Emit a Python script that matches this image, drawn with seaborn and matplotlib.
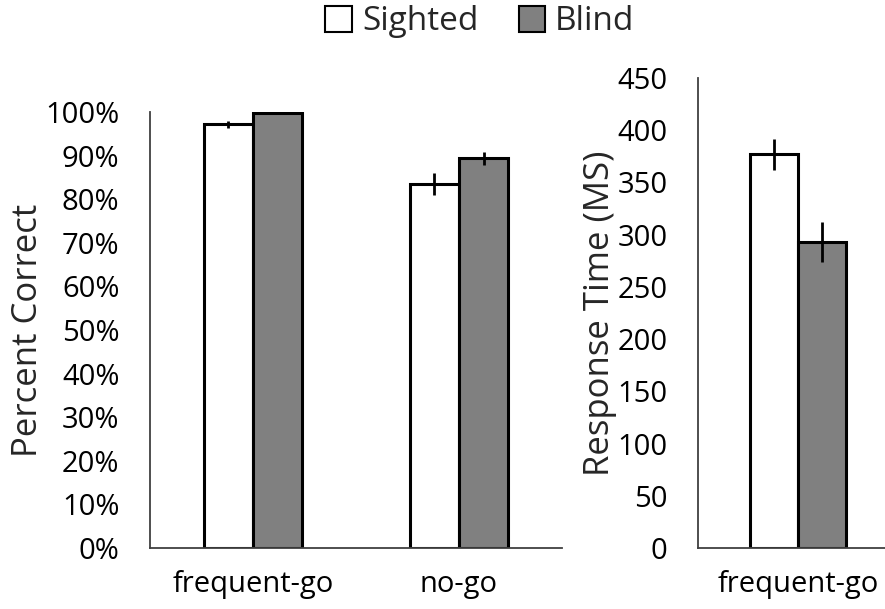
import matplotlib
matplotlib.use("Agg")
import matplotlib.pyplot as plt
import matplotlib.patches as mpatches
import seaborn as sns
import pandas as pd
import numpy as np

# Data
groups = ["Sighted", "Blind"]
acc_conditions = ["frequent-go", "no-go"]
acc_sighted = [97.2, 83.5]
acc_blind = [99.7, 89.4]
acc_err_sighted = [0.8, 2.5]
acc_err_blind = [0.0, 1.5]

rt_conditions = ["frequent-go"]
rt_sighted = [377]
rt_blind = [293]
rt_err_sighted = [15]
rt_err_blind = [19]

colors = {"Sighted": "#ffffff", "Blind": "#808080"}

sns.set_theme(style="white")
plt.rcParams['font.family'] = ['Open Sans', 'DejaVu Sans']

fig = plt.figure(figsize=(8.85, 6.09), dpi=100)
ax1 = fig.add_axes([150/885, 61/609, 412/885, 436/609])
ax2 = fig.add_axes([698/885, 61/609, 200/885, 470/609])

def draw(ax, conds, s_vals, b_vals, s_err, b_err):
    df = pd.DataFrame({
        "condition": conds * 2,
        "group": ["Sighted"] * len(conds) + ["Blind"] * len(conds),
        "value": list(s_vals) + list(b_vals),
    })
    sns.barplot(data=df, x="condition", y="value", hue="group", order=conds,
                hue_order=groups, palette=colors, edgecolor="black",
                linewidth=2.2, width=0.476, gap=0, errorbar=None, ax=ax,
                legend=False, saturation=1)
    errs = list(s_err) + list(b_err)
    bars = [p for p in ax.patches if isinstance(p, mpatches.Rectangle)]
    for p, e in zip(bars, errs):
        if e > 0:
            cx = p.get_x() + p.get_width() / 2
            ax.errorbar(cx, p.get_height(), yerr=e, color="black",
                        elinewidth=2, capsize=0, zorder=5)
    ax.set_xlabel("")
    ax.set_xlim(-0.5, len(conds) - 0.5)
    for s in ["top", "right"]:
        ax.spines[s].set_visible(False)
    for s in ["left", "bottom"]:
        ax.spines[s].set_color("#404040")
        ax.spines[s].set_linewidth(1.3)
    ax.tick_params(axis="both", length=0, labelsize=21, colors="black")
    ax.tick_params(axis="x", pad=16)
    ax.tick_params(axis="y", pad=22)

draw(ax1, acc_conditions, acc_sighted, acc_blind, acc_err_sighted, acc_err_blind)
ax1.set_ylim(0, 100)
ax1.set_yticks(np.arange(0, 101, 10))
ax1.set_yticklabels([f"{v}%" for v in range(0, 101, 10)])
ax1.set_ylabel("Percent Correct", fontsize=25, labelpad=0)

draw(ax2, rt_conditions, rt_sighted, rt_blind, rt_err_sighted, rt_err_blind)
ax2.set_ylim(0, 450)
ax2.set_yticks(np.arange(0, 451, 50))
ax2.set_ylabel("Response Time (MS)", fontsize=25, labelpad=0)

handles = [mpatches.Patch(facecolor=colors[g], edgecolor="black", linewidth=1.5, label=g) for g in groups]
fig.legend(handles=handles, loc="center", bbox_to_anchor=(480/885, 1 - 22/609),
           ncol=2, frameon=False, fontsize=24, handlelength=0.8, handleheight=0.8,
           handletextpad=0.3, columnspacing=1.2)

fig.savefig("out.png", dpi=100)
